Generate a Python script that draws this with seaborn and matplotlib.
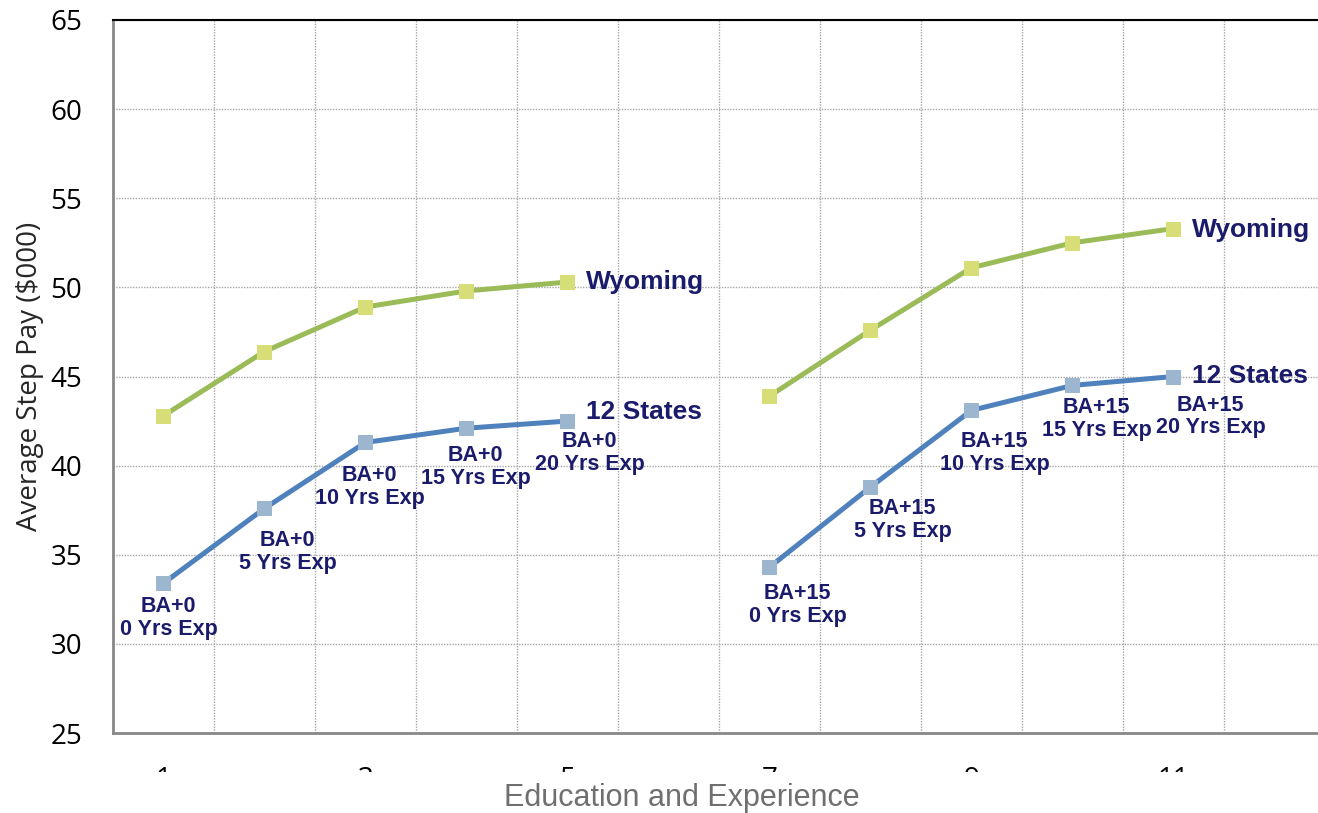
import numpy as np
import pandas as pd
import seaborn as sns
import matplotlib.pyplot as plt
from matplotlib.patches import Rectangle
from matplotlib.ticker import MultipleLocator, FixedLocator

# values
steps = [1, 2, 3, 4, 5, 7, 8, 9, 10, 11]
wyoming = [42.8, 46.4, 48.9, 49.8, 50.3, 43.9, 47.6, 51.1, 52.5, 53.3]
twelve_states = [33.4, 37.6, 41.3, 42.1, 42.5, 34.3, 38.8, 43.1, 44.5, 45.0]
education = ['BA+0'] * 5 + ['BA+15'] * 5
years_exp = [0, 5, 10, 15, 20, 0, 5, 10, 15, 20]
x_ticks = [1, 3, 5, 7, 9, 11]

df = pd.DataFrame({'step': steps * 2,
                   'pay': wyoming + twelve_states,
                   'series': ['Wyoming'] * 10 + ['12 States'] * 10,
                   'edu': education * 2})

sns.set_style('white')
plt.rcParams['font.family'] = ['Open Sans', 'DejaVu Sans']

fig = plt.figure(figsize=(13.18, 8.13), dpi=100)
ax = fig.add_axes([0.0857, 0.0984, 0.9196, 0.877])

navy = '#1b1b6b'
styles = {'Wyoming': ('#9bbb59', '#d7de78'),
          '12 States': ('#4f81bd', '#9cb6cf')}

for name, (line_c, mark_c) in styles.items():
    sub = df[df['series'] == name]
    sns.lineplot(data=sub, x='step', y='pay', units='edu', estimator=None,
                 color=line_c, lw=3.6, marker='s', ms=10,
                 markerfacecolor=mark_c, markeredgecolor=mark_c, ax=ax)

# point labels under the 12 States line (offsets in px: dx, drop below)
label_offsets = [(5, 13), (23, 22), (4, 23), (9, 17), (22, 10),
                 (28, 16), (32, 11), (23, 21), (24, 12), (37, 18)]
for x, y, e, yr, (dx, dy) in zip(steps, twelve_states, education, years_exp, label_offsets):
    ax.annotate(f'{e}\n{yr} Yrs Exp', (x, y), xytext=(dx * 0.72, -dy * 0.72),
                textcoords='offset points', ha='center', va='top',
                fontsize=15.5, fontweight='bold', color=navy,
                family='Liberation Sans', linespacing=1.1)

# series names at the end of each group
end_labels = [('Wyoming', 5, wyoming[4], 0), ('12 States', 5, twelve_states[4], 9),
              ('Wyoming', 11, wyoming[9], -1), ('12 States', 11, twelve_states[9], 1)]
for txt, x, y, up in end_labels:
    ax.annotate(txt, (x, y), xytext=(13, up * 0.72), textcoords='offset points',
                ha='left', va='center', fontsize=19, fontweight='bold',
                color=navy, family='Liberation Sans')

ax.set_xlim(0.5, 12.5)
ax.set_ylim(25, 65)
ax.yaxis.set_major_locator(MultipleLocator(5))
ax.xaxis.set_major_locator(FixedLocator(x_ticks))
ax.xaxis.set_minor_locator(MultipleLocator(1, offset=0.5))

ax.grid(True, axis='y', which='major', color='#a6a6a6', ls=(0, (1, 1)), lw=1)
ax.grid(True, axis='x', which='minor', color='#a6a6a6', ls=(0, (1, 1)), lw=1)
ax.grid(False, axis='x', which='major')

ax.tick_params(axis='y', which='major', direction='in', length=8, width=1.5,
               color='#888888', labelsize=20, pad=22, labelcolor='black')
ax.tick_params(axis='x', which='minor', direction='in', length=8, width=1,
               color='#888888')
ax.tick_params(axis='x', which='major', length=0, labelsize=20, pad=24,
               labelcolor='black')

for side in ['left', 'bottom']:
    ax.spines[side].set_color('#888888')
    ax.spines[side].set_linewidth(2)
ax.spines['top'].set_color('black')
ax.spines['top'].set_linewidth(1.5)
ax.spines['right'].set_visible(False)

ax.set_xlabel('')
ax.set_ylabel('Average Step Pay ($000)', fontsize=20, labelpad=5)

# the reference cuts the x tick numbers off, keep that look
fig.patches.append(Rectangle((0, 0), 1, 0.05, transform=fig.transFigure,
                             facecolor='white', edgecolor='none', zorder=5))
fig.text(0.517, 0.018, 'Education and Experience', ha='center', va='center',
         fontsize=22, color='#6f6f6f', family='Liberation Sans', zorder=6)

fig.savefig('out.png', dpi=100)
